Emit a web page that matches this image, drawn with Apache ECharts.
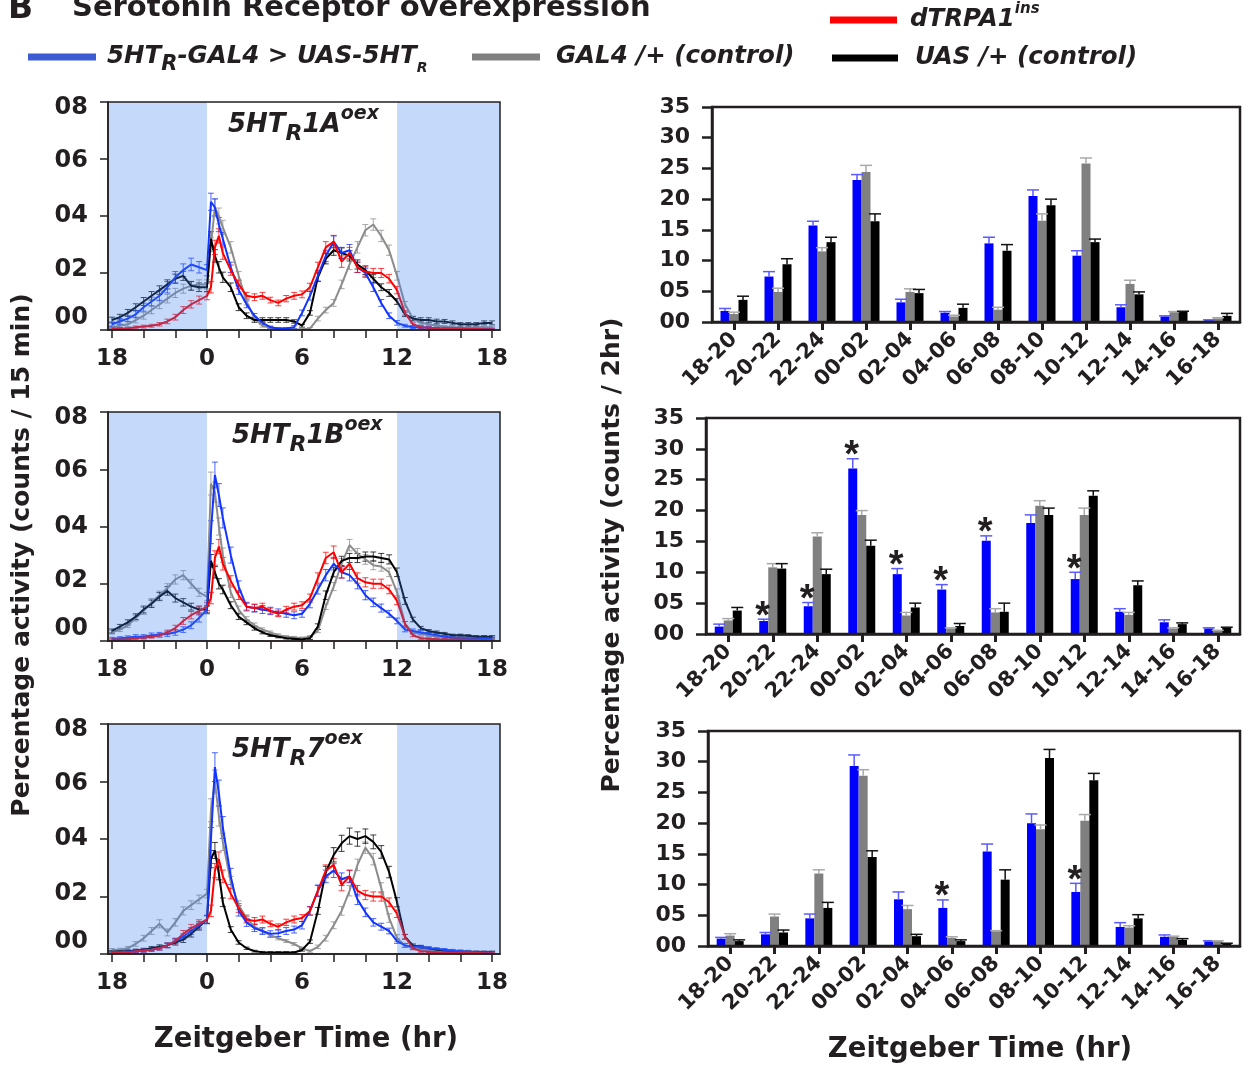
<!DOCTYPE html>
<html>
<head>
<meta charset="utf-8">
<script src="https://cdn.jsdelivr.net/npm/echarts@6.0.0/dist/echarts.min.js"></script>
<style>
    html, body { margin: 0; padding: 0; background: #fff; }
    #chart { width: 1249px; height: 1068px; }
</style>
</head>
<body>
<div id="chart"></div>
<script>
// ---- line panels: ZT sample points (hr), -6 == ZT18 of the previous day ----
const zt = [-6, -5.5, -5, -4.5, -4, -3.5, -3, -2.5, -2, -1.5, -1, -0.5,
    0, 0.25, 0.5, 0.75,
    1, 1.5, 2, 2.5, 3, 3.5, 4, 4.5, 5, 5.5,
    6, 6.5, 7, 7.5, 8, 8.5, 9, 9.5, 10, 10.5,
    11, 11.5, 12, 12.5, 13, 13.5, 14, 14.5, 15, 15.5,
    16, 16.5, 17, 17.5, 18];
const ztTicks = [-6, -4, -2, 0, 2, 4, 6, 8, 10, 12, 14, 16, 18];
const ztLabels = [-6, 0, 6, 12, 18];
const darkPhases = [[-6.25, 0], [12, 18.5]];

// dTRPA1ins (same trace in the three panels)
const redTrpa = [0.05, 0.05, 0.05, 0.1, 0.12, 0.15, 0.2, 0.3, 0.45, 0.7, 0.9, 1.05,
    1.2, 1.5, 2.9, 3.3,
    2.7, 2.1, 1.6, 1.2, 1.15, 1.2, 1.05, 0.95, 1.1, 1.2,
    1.25, 1.5, 2.2, 2.9, 3.1, 2.4, 2.7, 2.2, 2.05, 2.0,
    2.0, 1.8, 1.4, 0.6, 0.2, 0.1, 0.08, 0.06, 0.05, 0.05,
    0.05, 0.04, 0.04, 0.03, 0.03];
const errRed = [.03, .03, .03, .04, .05, .05, .06, .08, .1, .12, .13, .14,
    .14, .2, .25, .25,
    .22, .18, .15, .12, .12, .12, .1, .1, .11, .12,
    .12, .14, .18, .2, .22, .2, .2, .18, .16, .16,
    .16, .15, .13, .08, .05, .04, .03, .03, .03, .03,
    .03, .03, .03, .03, .03];

// 5HTR1A oex
const blue1A = [0.2, 0.3, 0.4, 0.55, 0.8, 1.0, 1.2, 1.5, 1.85, 2.1, 2.3, 2.2,
    2.1, 4.5, 4.3, 3.7,
    3.2, 2.2, 1.4, 0.9, 0.5, 0.25, 0.1, 0.05, 0.05, 0.1,
    0.6, 1.2, 1.9, 2.6, 3.1, 2.7, 2.8, 2.2, 2.0, 1.5,
    0.95, 0.5, 0.25, 0.15, 0.1, 0.1, 0.08, 0.05, 0.05, 0.05,
    0.05, 0.03, 0.03, 0.03, 0.03];
const gray1A = [0.1, 0.15, 0.2, 0.35, 0.5, 0.7, 0.9, 1.1, 1.3, 1.45, 1.55, 1.6,
    1.6, 3.0, 4.3, 4.0,
    3.6, 2.9, 1.9, 1.0, 0.4, 0.15, 0.08, 0.05, 0.05, 0.03,
    0.02, 0.05, 0.4, 0.7, 0.95, 1.6, 2.3, 2.9, 3.5, 3.7,
    3.3, 2.8, 1.9, 0.9, 0.4, 0.25, 0.2, 0.15, 0.12, 0.1,
    0.08, 0.08, 0.1, 0.1, 0.1];
const black1A = [0.35, 0.45, 0.6, 0.8, 1.0, 1.2, 1.4, 1.6, 1.8, 1.9, 1.55, 1.5,
    1.5, 3.2, 2.6, 2.2,
    1.85, 1.5, 0.8, 0.5, 0.35, 0.35, 0.35, 0.35, 0.35, 0.3,
    0.15, 0.6, 1.85, 2.5, 2.8, 2.7, 2.6, 2.3, 2.1, 1.8,
    1.5, 1.3, 1.0, 0.55, 0.4, 0.35, 0.35, 0.3, 0.3, 0.25,
    0.2, 0.2, 0.2, 0.25, 0.25];
const errBlue1A = [.08, .1, .1, .12, .14, .15, .17, .2, .2, .22, .22, .2,
    .2, .3, .3, .25,
    .22, .18, .15, .12, .08, .05, .04, .03, .03, .05,
    .1, .15, .18, .2, .2, .2, .2, .18, .15, .15,
    .12, .1, .08, .05, .05, .05, .04, .04, .04, .03,
    .03, .03, .03, .03, .03];
const errGray1A = [.05, .06, .08, .1, .12, .13, .15, .15, .16, .16, .16, .16,
    .16, .25, .3, .28,
    .25, .2, .15, .12, .08, .05, .04, .03, .03, .03,
    .03, .04, .08, .1, .12, .15, .18, .2, .2, .2,
    .2, .18, .15, .1, .06, .05, .04, .04, .03, .03,
    .03, .03, .03, .03, .03];
const errBlack1A = [.1, .1, .12, .12, .14, .15, .15, .16, .16, .16, .15, .15,
    .15, .25, .22, .2,
    .18, .15, .12, .1, .08, .08, .08, .08, .08, .06,
    .05, .08, .15, .18, .18, .18, .18, .16, .15, .14,
    .12, .12, .1, .08, .08, .08, .08, .08, .07, .07,
    .06, .06, .06, .07, .07];

// 5HTR1B oex
const blue1B = [0.08, 0.1, 0.12, 0.15, 0.15, 0.2, 0.22, 0.25, 0.3, 0.4, 0.55, 0.8,
    1.1, 3.8, 5.8, 5.1,
    4.3, 3.0, 1.9, 1.2, 1.15, 1.1, 1.05, 1.0, 0.95, 0.9,
    0.95, 1.3, 1.8, 2.3, 2.7, 2.4, 2.3, 2.0, 1.6, 1.35,
    1.15, 0.95, 0.7, 0.4, 0.35, 0.3, 0.25, 0.2, 0.15, 0.12,
    0.1, 0.1, 0.08, 0.08, 0.08];
const gray1B = [0.3, 0.4, 0.55, 0.8, 1.05, 1.35, 1.6, 1.85, 2.15, 2.3, 2.0, 1.7,
    1.55, 5.5, 5.2, 4.0,
    3.0, 1.7, 1.1, 0.75, 0.55, 0.4, 0.3, 0.2, 0.15, 0.12,
    0.1, 0.15, 0.35, 1.2, 1.9, 2.7, 3.35, 3.05, 2.85, 2.65,
    2.6, 2.4, 1.7, 0.6, 0.3, 0.25, 0.2, 0.15, 0.15, 0.12,
    0.12, 0.12, 0.12, 0.12, 0.12];
const black1B = [0.35, 0.5, 0.65, 0.85, 1.1, 1.3, 1.55, 1.75, 1.5, 1.35, 1.2, 1.1,
    1.1, 2.8, 2.4, 2.0,
    1.8, 1.25, 0.85, 0.65, 0.45, 0.3, 0.2, 0.15, 0.1, 0.08,
    0.05, 0.1, 0.5, 1.6, 2.4, 2.8, 2.9, 2.9, 2.95, 2.95,
    2.9, 2.85, 2.4, 1.4, 0.75, 0.45, 0.35, 0.3, 0.25, 0.2,
    0.2, 0.18, 0.15, 0.15, 0.15];
const errBlue1B = [.05, .05, .06, .07, .07, .08, .08, .09, .1, .1, .12, .14,
    .15, .4, .45, .4,
    .35, .28, .2, .15, .14, .14, .13, .12, .12, .12,
    .12, .14, .16, .2, .22, .2, .2, .18, .16, .15,
    .14, .12, .1, .08, .07, .06, .06, .05, .05, .05,
    .05, .05, .05, .05, .05];
const errGray1B = [.06, .07, .08, .1, .12, .13, .14, .15, .16, .16, .15, .14,
    .14, .4, .35, .3,
    .25, .18, .12, .1, .08, .06, .05, .05, .04, .04,
    .04, .04, .06, .1, .14, .18, .2, .18, .17, .16,
    .16, .15, .12, .08, .05, .05, .04, .04, .04, .04,
    .04, .04, .04, .04, .04];
const errBlack1B = [.07, .08, .09, .1, .12, .13, .14, .15, .14, .13, .12, .12,
    .12, .22, .2, .18,
    .15, .12, .1, .08, .07, .05, .04, .04, .03, .03,
    .03, .05, .1, .15, .16, .16, .16, .16, .16, .16,
    .16, .16, .15, .12, .08, .06, .05, .05, .05, .04,
    .04, .04, .04, .04, .04];

// 5HTR7 oex
const blue7 = [0.05, 0.06, 0.08, 0.1, 0.12, 0.15, 0.2, 0.3, 0.45, 0.6, 0.8, 1.0,
    1.2, 4.0, 6.5, 5.6,
    4.4, 2.7, 1.5, 1.1, 0.9, 0.8, 0.7, 0.72, 0.8, 0.85,
    1.0, 1.5, 2.2, 2.7, 2.9, 2.6, 2.7, 1.9, 1.45, 1.1,
    0.95, 0.8, 0.45, 0.3, 0.25, 0.25, 0.2, 0.18, 0.15, 0.12,
    0.1, 0.08, 0.06, 0.05, 0.05];
const gray7 = [0.14, 0.15, 0.2, 0.35, 0.55, 0.8, 1.05, 0.75, 1.1, 1.5, 1.7, 1.9,
    2.1, 5.0, 6.0, 4.8,
    3.9, 2.5, 1.7, 1.24, 0.95, 0.8, 0.65, 0.55, 0.45, 0.35,
    0.2, 0.1, 0.25, 0.55, 1.0, 1.5, 2.2, 3.1, 3.7, 3.3,
    2.3, 1.25, 0.55, 0.3, 0.2, 0.15, 0.15, 0.12, 0.1, 0.1,
    0.1, 0.1, 0.08, 0.08, 0.08];
const black7 = [0.08, 0.1, 0.1, 0.12, 0.15, 0.2, 0.25, 0.3, 0.4, 0.5, 0.7, 0.95,
    1.2, 3.3, 3.6, 2.8,
    1.8, 0.85, 0.4, 0.2, 0.1, 0.06, 0.05, 0.05, 0.05, 0.05,
    0.14, 0.43, 1.5, 2.85, 3.45, 3.85, 4.1, 4.0, 4.1, 3.9,
    3.55, 2.85, 1.8, 0.6, 0.3, 0.25, 0.2, 0.15, 0.12, 0.1,
    0.08, 0.08, 0.06, 0.06, 0.06];
const errBlue7 = [.04, .04, .05, .05, .06, .06, .07, .08, .09, .1, .12, .13,
    .15, .4, .5, .45,
    .38, .28, .18, .14, .12, .12, .11, .11, .12, .12,
    .13, .15, .2, .22, .24, .22, .22, .18, .15, .13,
    .12, .1, .08, .06, .05, .05, .05, .04, .04, .04,
    .04, .04, .04, .04, .04];
const errGray7 = [.05, .05, .06, .08, .1, .12, .14, .12, .13, .14, .15, .15,
    .15, .4, .4, .35,
    .3, .2, .15, .12, .1, .08, .07, .06, .05, .05,
    .04, .04, .06, .1, .12, .15, .18, .2, .2, .2,
    .18, .15, .12, .07, .05, .04, .04, .04, .04, .03,
    .03, .03, .03, .03, .03];
const errBlack7 = [.04, .04, .04, .05, .05, .06, .07, .08, .09, .1, .11, .12,
    .13, .3, .28, .22,
    .15, .1, .06, .04, .03, .03, .03, .03, .03, .03,
    .04, .06, .12, .2, .25, .28, .28, .25, .25, .24,
    .22, .2, .16, .08, .05, .05, .04, .04, .03, .03,
    .03, .03, .03, .03, .03];

// ---- bar panels: % activity per 2 hr bin ----
const bins = ['18-20', '20-22', '22-24', '00-02', '02-04', '04-06', '06-08', '08-10', '10-12', '12-14', '14-16', '16-18'];

const barBlue1A = [1.8, 7.4, 15.7, 23.1, 3.2, 1.5, 12.8, 20.5, 10.8, 2.4, 0.9, 0.3];
const barBlueErr1A = [0.4, 0.8, 0.7, 0.9, 0.5, 0.2, 1.0, 1.0, 0.8, 0.4, 0.1, 0.05];
const barGray1A = [1.3, 4.9, 11.5, 24.4, 4.9, 0.9, 2.0, 16.5, 25.8, 6.2, 1.6, 0.6];
const barGrayErr1A = [0.3, 0.6, 0.6, 1.1, 0.5, 0.2, 0.4, 1.1, 0.9, 0.6, 0.1, 0.1];
const barBlack1A = [3.6, 9.4, 13.0, 16.4, 4.7, 2.3, 11.6, 19.0, 13.0, 4.5, 1.7, 1.0];
const barBlackErr1A = [0.6, 0.9, 0.8, 1.2, 0.6, 0.6, 1.0, 1.0, 0.5, 0.4, 0.05, 0.4];
const stars1A = [];

const barBlue1B = [1.2, 2.1, 4.5, 26.8, 9.7, 7.2, 15.1, 18.0, 8.9, 3.6, 1.9, 0.9];
const barBlueErr1B = [0.4, 0.3, 0.6, 1.6, 0.9, 0.8, 0.8, 1.3, 1.1, 0.5, 0.4, 0.1];
const barGray1B = [2.2, 10.8, 15.8, 19.3, 3.0, 0.9, 3.5, 20.8, 19.3, 3.1, 0.9, 0.5];
const barGrayErr1B = [0.3, 0.6, 0.6, 0.7, 0.5, 0.1, 0.6, 0.8, 1.1, 0.4, 0.1, 0.1];
const barBlack1B = [3.8, 10.6, 9.7, 14.3, 4.3, 1.3, 3.6, 19.3, 22.4, 7.9, 1.6, 1.0];
const barBlackErr1B = [0.5, 0.8, 0.8, 0.9, 0.7, 0.4, 1.4, 1.1, 0.8, 0.7, 0.2, 0.1];
const stars1B = [1, 2, 3, 4, 5, 6, 8];

const barBlue7 = [1.2, 1.9, 4.5, 29.3, 7.6, 6.2, 15.4, 20.0, 8.8, 3.1, 1.5, 0.75];
const barBlueErr7 = [0.2, 0.3, 0.7, 1.8, 1.2, 1.3, 1.2, 1.5, 1.4, 0.7, 0.3, 0.1];
const barGray7 = [1.7, 4.8, 11.8, 27.7, 6.0, 1.3, 2.4, 19.0, 20.4, 3.0, 1.5, 0.8];
const barGrayErr7 = [0.3, 0.4, 0.6, 1.0, 0.6, 0.2, 0.1, 0.7, 1.0, 0.3, 0.1, 0.05];
const barBlack7 = [0.8, 2.2, 6.2, 14.5, 1.6, 0.8, 10.8, 30.6, 27.0, 4.5, 1.0, 0.4];
const barBlackErr7 = [0.2, 0.4, 0.9, 1.0, 0.3, 0.2, 1.6, 1.4, 1.1, 0.6, 0.2, 0.05];
const stars7 = [5, 8];

// ---- styling ----
const FONT = '"DejaVu Sans", "Liberation Sans", Arial, sans-serif';
const STAR_FONT = '"Liberation Sans", Arial, sans-serif';
const INK = '#231f20';
const LINE_COLORS = {blue: '#1234ff', gray: '#8c8c8c', black: '#000000', red: '#ff0000'};
const BAR_COLORS = ['#0000ff', '#808080', '#000000'];
const BAR_ERR_COLORS = ['#5a5aff', '#a9a9a9', '#111111'];
const BAR_W = 9;

const lineGrids = [
    {left: 108, top: 102, width: 392, height: 228},
    {left: 108, top: 412, width: 392, height: 229},
    {left: 108, top: 724, width: 392, height: 230}
];
const barGrids = [
    {left: 712, top: 107, width: 528, height: 215},
    {left: 706, top: 418, width: 534, height: 216},
    {left: 708, top: 731, width: 532, height: 215}
];
// vertical nudges of the printed y labels of the line panels (top, bottom padding)
const yLabelNudge = {0: [0, 0, 24, 0], 2: [0, 0, 6, 0], 4: [0, 0, 0, 0], 6: [4, 0, 0, 0], 8: [12, 0, 0, 0]};

const linePanels = [
    {blue: blue1A, gray: gray1A, black: black1A, eBlue: errBlue1A, eGray: errGray1A, eBlack: errBlack1A},
    {blue: blue1B, gray: gray1B, black: black1B, eBlue: errBlue1B, eGray: errGray1B, eBlack: errBlack1B},
    {blue: blue7, gray: gray7, black: black7, eBlue: errBlue7, eGray: errGray7, eBlack: errBlack7}
];
const barPanels = [
    {vals: [barBlue1A, barGray1A, barBlack1A], errs: [barBlueErr1A, barGrayErr1A, barBlackErr1A], stars: stars1A},
    {vals: [barBlue1B, barGray1B, barBlack1B], errs: [barBlueErr1B, barGrayErr1B, barBlackErr1B], stars: stars1B},
    {vals: [barBlue7, barGray7, barBlack7], errs: [barBlueErr7, barGrayErr7, barBlackErr7], stars: stars7}
];

function pad2(v) {
    return (v < 10 ? '0' : '') + v;
}

function lineErrRender(color) {
    return function (params, api) {
        let x = api.value(0), v = api.value(1), e = api.value(2);
        let top = api.coord([x, v + e]);
        let bot = api.coord([x, Math.max(0, v - e)]);
        let w = 3;
        let st = {stroke: color, lineWidth: 1, opacity: 0.75};
        return {
            type: 'group',
            children: [
                {type: 'line', shape: {x1: top[0], y1: top[1], x2: bot[0], y2: bot[1]}, style: st},
                {type: 'line', shape: {x1: top[0] - w, y1: top[1], x2: top[0] + w, y2: top[1]}, style: st},
                {type: 'line', shape: {x1: bot[0] - w, y1: bot[1], x2: bot[0] + w, y2: bot[1]}, style: st}
            ]
        };
    };
}

function barErrRender(k) {
    return function (params, api) {
        let i = api.value(0), v = api.value(1), e = api.value(2);
        let base = api.coord([i, v]);
        let top = api.coord([i, v + e]);
        let x = base[0] + (k - 1) * BAR_W;
        let st = {stroke: BAR_ERR_COLORS[k], lineWidth: 1.5};
        return {
            type: 'group',
            children: [
                {type: 'line', shape: {x1: x, y1: base[1], x2: x, y2: top[1]}, style: st},
                {type: 'line', shape: {x1: x - 6, y1: top[1], x2: x + 6, y2: top[1]}, style: st}
            ]
        };
    };
}

const axisFont = {fontWeight: 'bold', fontFamily: FONT, color: INK};
let yRich = {};
Object.keys(yLabelNudge).forEach(function (k) {
    yRich['n' + k] = Object.assign({fontSize: 24, padding: yLabelNudge[k]}, axisFont);
});

let grid = [], xAxis = [], yAxis = [], series = [];

lineGrids.forEach(function (g, i) {
    grid.push(Object.assign({show: true, z: 20, borderColor: INK, borderWidth: 1.5, backgroundColor: 'transparent'}, g));
    xAxis.push({
        type: 'value', gridIndex: i, min: -6.25, max: 18.5, z: 20,
        splitLine: {show: false},
        axisLine: {show: true, onZero: false, lineStyle: {color: INK, width: 1.5}},
        axisTick: {show: true, customValues: ztTicks, length: 8, lineStyle: {color: INK, width: 1.5}},
        axisLabel: Object.assign({
            customValues: ztLabels, margin: 18, fontSize: 23,
            formatter: function (v) { return String(v < 0 ? v + 24 : v); }
        }, axisFont)
    });
    yAxis.push({
        type: 'value', gridIndex: i, min: 0, max: 8, interval: 2, z: 20,
        splitLine: {show: false},
        axisLine: {show: true, onZero: false, lineStyle: {color: INK, width: 1.5}},
        axisTick: {show: true, length: 8, lineStyle: {color: INK, width: 1.5}},
        axisLabel: Object.assign({
            margin: 20, fontSize: 24,
            formatter: function (v) { return '{n' + v + '|' + pad2(v) + '}'; },
            rich: yRich
        }, axisFont)
    });
});

barGrids.forEach(function (g, j) {
    grid.push(Object.assign({show: true, z: 20, borderColor: INK, borderWidth: 2.5, backgroundColor: 'transparent'}, g));
    xAxis.push({
        type: 'category', gridIndex: 3 + j, data: bins, z: 20,
        axisLine: {show: true, onZero: false, lineStyle: {color: INK, width: 2.5}},
        axisTick: {show: true, alignWithLabel: true, length: 8, lineStyle: {color: INK, width: 3}},
        axisLabel: Object.assign({interval: 0, rotate: 45, margin: 14, fontSize: 21}, axisFont)
    });
    yAxis.push({
        type: 'value', gridIndex: 3 + j, min: 0, max: 35, interval: 5, z: 20,
        splitLine: {show: false},
        axisLine: {show: true, onZero: false, lineStyle: {color: INK, width: 2.5}},
        axisTick: {show: true, length: 10, lineStyle: {color: INK, width: 2.5}},
        axisLabel: Object.assign({formatter: pad2, margin: 22, fontSize: 22}, axisFont)
    });
});

linePanels.forEach(function (p, i) {
    let traces = [
        ['gray', p.gray, p.eGray],
        ['black', p.black, p.eBlack],
        ['blue', p.blue, p.eBlue],
        ['red', redTrpa, errRed]
    ];
    traces.forEach(function (t) {
        let color = LINE_COLORS[t[0]];
        series.push({
            type: 'custom', xAxisIndex: i, yAxisIndex: i, z: 2,
            renderItem: lineErrRender(color),
            encode: {x: 0, y: 1},
            data: zt.map(function (x, k) { return [x, t[1][k], t[2][k]]; })
        });
        series.push({
            type: 'line', xAxisIndex: i, yAxisIndex: i, z: 3,
            showSymbol: false, symbol: 'none',
            lineStyle: {color: color, width: 2},
            data: zt.map(function (x, k) { return [x, t[1][k]]; })
        });
    });
    // dark phase shading, laid over the traces like in the figure
    series.push({
        type: 'custom', xAxisIndex: i, yAxisIndex: i, z: 10, silent: true,
        encode: {x: [0, 1]},
        data: darkPhases,
        renderItem: function (params, api) {
            let a = api.coord([api.value(0), 8]);
            let b = api.coord([api.value(1), 0]);
            return {
                type: 'rect',
                shape: {x: a[0], y: a[1], width: b[0] - a[0], height: b[1] - a[1]},
                style: {fill: 'rgba(62,128,238,0.3)'}
            };
        }
    });
});

barPanels.forEach(function (p, j) {
    let ax = 3 + j;
    p.vals.forEach(function (vals, k) {
        series.push({
            type: 'bar', xAxisIndex: ax, yAxisIndex: ax, z: 3,
            barWidth: BAR_W, barGap: '0%',
            itemStyle: {color: BAR_COLORS[k]},
            data: vals
        });
    });
    p.vals.forEach(function (vals, k) {
        series.push({
            type: 'custom', xAxisIndex: ax, yAxisIndex: ax, z: 4,
            renderItem: barErrRender(k),
            encode: {x: 0, y: 1},
            data: vals.map(function (v, i) { return [i, v, p.errs[k][i]]; })
        });
    });
    series.push({
        type: 'custom', xAxisIndex: ax, yAxisIndex: ax, z: 5,
        encode: {x: 0, y: 1},
        data: p.stars.map(function (i) { return [i, p.vals[0][i] + p.errs[0][i]]; }),
        renderItem: function (params, api) {
            let c = api.coord([api.value(0), api.value(1)]);
            return {
                type: 'text', x: c[0] - BAR_W - 1, y: c[1] + 17,
                style: {text: '*', fontSize: 38, fontWeight: 'bold', fontFamily: STAR_FONT, fill: INK, align: 'center', verticalAlign: 'bottom'}
            };
        }
    });
});

// texts with sub/superscripts
function txtStyle(size, lh, va) {
    return {fontSize: size, fontStyle: 'italic', fontWeight: 'bold', fontFamily: FONT, fill: INK, lineHeight: lh, verticalAlign: va};
}
function panelTitle(x, y, txt) {
    return {
        type: 'text', x: x, y: y, z: 100,
        style: {text: txt, verticalAlign: 'middle', rich: {m: txtStyle(26, 40, 'middle'), s: txtStyle(22, 20, 'bottom'), p: txtStyle(19, 26, 'top')}}
    };
}
const legRich = {
    m: txtStyle(24.5, 36, 'middle'),
    s: txtStyle(21, 18, 'bottom'),
    r: txtStyle(14, 12, 'bottom'),
    p: txtStyle(15, 22, 'top')
};

function legLine(x1, x2, y, color) {
    return {type: 'line', shape: {x1: x1, y1: y, x2: x2, y2: y}, style: {stroke: color, lineWidth: 7}};
}
function legText(x, y, txt) {
    return {type: 'text', x: x, y: y, style: {text: txt, verticalAlign: 'middle', rich: legRich}};
}
function plainText(x, y, txt, size, rot) {
    return {
        type: 'text', x: x, y: y, z: 100, rotation: rot || 0,
        style: {text: txt, fontSize: size, fontWeight: 'bold', fontFamily: FONT, fill: INK, verticalAlign: 'middle', align: rot !== undefined ? 'center' : 'left'}
    };
}

let graphics = [
    plainText(8, 9, 'B', 33),
    plainText(72, 8, 'Serotonin Receptor overexpression', 29),
    legLine(830, 897, 20, '#ff0000'),
    legText(910, 20, '{m|dTRPA1}{p|ins}'),
    legLine(28, 96, 57, '#3d5bd3'),
    legText(107, 57, '{m|5HT}{s|R}{m|-GAL4 > UAS-5HT}{r|R}'),
    legLine(472, 540, 57, '#808080'),
    legText(556, 57, '{m|GAL4 /+ (control)}'),
    legLine(832, 898, 58, '#000000'),
    legText(915, 58, '{m|UAS /+ (control)}'),
    panelTitle(228, 125, '{m|5HT}{s|R}{m|1A}{p|oex}'),
    panelTitle(232, 436, '{m|5HT}{s|R}{m|1B}{p|oex}'),
    panelTitle(232, 750, '{m|5HT}{s|R}{m|7}{p|oex}'),
    plainText(22, 555, 'Percentage activity (counts / 15 min)', 25, Math.PI / 2),
    plainText(612, 555, 'Percentage activity (counts / 2hr)', 25, Math.PI / 2),
    plainText(306, 1040, 'Zeitgeber Time (hr)', 27.5, 0),
    plainText(980, 1050, 'Zeitgeber Time (hr)', 27.5, 0)
];

let chart = echarts.init(document.getElementById('chart'));
chart.setOption({
    animation: false,
    backgroundColor: '#ffffff',
    grid: grid,
    xAxis: xAxis,
    yAxis: yAxis,
    series: series,
    graphic: {elements: graphics}
});
</script>
</body>
</html>
